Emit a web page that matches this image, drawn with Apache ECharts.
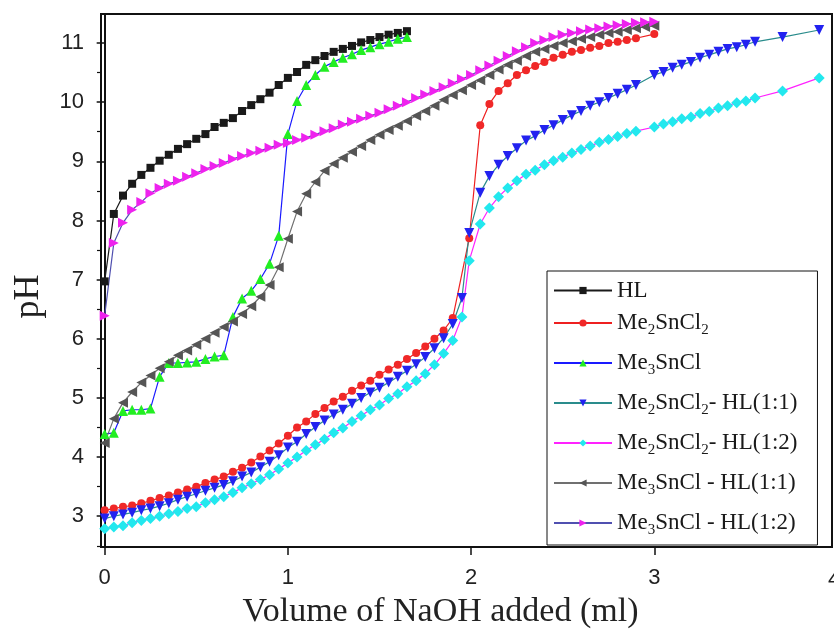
<!DOCTYPE html>
<html>
<head>
<meta charset="utf-8">
<script src="https://cdn.jsdelivr.net/npm/echarts@6/dist/echarts.min.js"></script>
<style>
  html, body { margin: 0; padding: 0; background: #fff; }
  #chart { width: 834px; height: 631px; }
</style>
</head>
<body>
<div id="chart"></div>
<script>
// Volumes of NaOH (ml)
const volSteps = [0, 0.05, 0.1, 0.15, 0.2, 0.25, 0.3, 0.35, 0.4, 0.45, 0.5, 0.55, 0.6, 0.65, 0.7, 0.75, 0.8, 0.85, 0.9, 0.95,
  1, 1.05, 1.1, 1.15, 1.2, 1.25, 1.3, 1.35, 1.4, 1.45, 1.5, 1.55, 1.6, 1.65, 1.7, 1.75, 1.8, 1.85, 1.9, 1.95,
  2, 2.05, 2.1, 2.15, 2.2, 2.25, 2.3, 2.35, 2.4, 2.45, 2.5, 2.55, 2.6, 2.65, 2.7, 2.75, 2.8, 2.85, 2.9, 2.95, 3];

const volMe2 = [0, 0.05, 0.1, 0.15, 0.2, 0.25, 0.3, 0.35, 0.4, 0.45, 0.5, 0.55, 0.6, 0.65, 0.7, 0.75, 0.8, 0.85, 0.9, 0.95,
  1, 1.05, 1.1, 1.15, 1.2, 1.25, 1.3, 1.35, 1.4, 1.45, 1.5, 1.55, 1.6, 1.65, 1.7, 1.75, 1.8, 1.85, 1.9,
  1.99, 2.05, 2.1, 2.15, 2.2, 2.25, 2.3, 2.35, 2.4, 2.45, 2.5, 2.55, 2.6, 2.65, 2.7, 2.75, 2.8, 2.85, 2.9, 3];

const volMix = [0, 0.05, 0.1, 0.15, 0.2, 0.25, 0.3, 0.35, 0.4, 0.45, 0.5, 0.55, 0.6, 0.65, 0.7, 0.75, 0.8, 0.85, 0.9, 0.95,
  1, 1.05, 1.1, 1.15, 1.2, 1.25, 1.3, 1.35, 1.4, 1.45, 1.5, 1.55, 1.6, 1.65, 1.7, 1.75, 1.8, 1.85, 1.9, 1.95,
  1.99, 2.05, 2.1, 2.15, 2.2, 2.25, 2.3, 2.35, 2.4, 2.45, 2.5, 2.55, 2.6, 2.65, 2.7, 2.75, 2.8, 2.85, 2.9,
  3, 3.05, 3.1, 3.15, 3.2, 3.25, 3.3, 3.35, 3.4, 3.45, 3.5, 3.55, 3.7, 3.9];

// pH readings
const phHL = [6.97, 8.11, 8.42, 8.62, 8.77, 8.89, 9.01, 9.11, 9.21, 9.29, 9.38, 9.46, 9.58, 9.65, 9.73, 9.85, 9.95, 10.05,
  10.16, 10.29, 10.41, 10.51, 10.63, 10.71, 10.78, 10.85, 10.90, 10.95, 11.01, 11.05, 11.10, 11.14, 11.17, 11.20];

const phMe2SnCl2 = [3.10, 3.13, 3.16, 3.18, 3.22, 3.26, 3.31, 3.35, 3.40, 3.45, 3.50, 3.56, 3.62, 3.67, 3.75, 3.82, 3.91,
  4.01, 4.11, 4.23, 4.36, 4.50, 4.60, 4.73, 4.83, 4.94, 5.02, 5.12, 5.21, 5.29, 5.39, 5.48, 5.56, 5.66, 5.76, 5.87, 6.00,
  6.14, 6.35, 7.70, 9.61, 9.97, 10.19, 10.32, 10.46, 10.54, 10.61, 10.68, 10.75, 10.80, 10.85, 10.88, 10.92, 10.95, 11.00,
  11.02, 11.05, 11.08, 11.15];

const phMe3SnCl = [4.39, 4.41, 4.78, 4.80, 4.80, 4.82, 5.36, 5.59, 5.59, 5.60, 5.61, 5.66, 5.70, 5.72, 6.37, 6.68, 6.81,
  7.01, 7.27, 7.74, 9.46, 10.02, 10.29, 10.46, 10.60, 10.68, 10.75, 10.81, 10.88, 10.93, 10.98, 11.02, 11.07, 11.10];

const phMe2HL11 = [2.96, 3.00, 3.03, 3.06, 3.10, 3.13, 3.17, 3.22, 3.28, 3.33, 3.38, 3.43, 3.48, 3.53, 3.59, 3.67, 3.74,
  3.83, 3.92, 4.03, 4.16, 4.26, 4.39, 4.51, 4.62, 4.72, 4.80, 4.90, 5.00, 5.09, 5.17, 5.26, 5.36, 5.46, 5.57, 5.69, 5.84,
  6.01, 6.25, 6.69, 7.79, 8.47, 8.75, 8.94, 9.09, 9.22, 9.35, 9.43, 9.53, 9.61, 9.70, 9.78, 9.85, 9.94, 10.00, 10.07,
  10.14, 10.21, 10.29, 10.46, 10.51, 10.58, 10.63, 10.68, 10.75, 10.80, 10.85, 10.90, 10.93, 10.97, 11.02, 11.10, 11.22];

const phMe2HL12 = [2.79, 2.82, 2.84, 2.89, 2.93, 2.96, 3.00, 3.04, 3.08, 3.13, 3.16, 3.23, 3.28, 3.33, 3.40, 3.48, 3.55,
  3.62, 3.70, 3.80, 3.90, 4.00, 4.11, 4.21, 4.30, 4.41, 4.49, 4.60, 4.70, 4.80, 4.88, 4.99, 5.07, 5.19, 5.29, 5.41, 5.56,
  5.75, 5.97, 6.37, 7.32, 7.94, 8.21, 8.40, 8.55, 8.67, 8.78, 8.85, 8.94, 9.01, 9.07, 9.14, 9.20, 9.26, 9.32, 9.37, 9.42,
  9.47, 9.51, 9.58, 9.63, 9.67, 9.72, 9.75, 9.81, 9.84, 9.90, 9.94, 9.99, 10.02, 10.07, 10.19, 10.41];

const phMe3HL11 = [4.24, 4.65, 4.92, 5.10, 5.26, 5.38, 5.50, 5.61, 5.72, 5.80, 5.90, 6.00, 6.10, 6.20, 6.29, 6.42, 6.55,
  6.71, 6.91, 7.21, 7.69, 8.15, 8.45, 8.65, 8.84, 8.96, 9.06, 9.16, 9.26, 9.36, 9.45, 9.53, 9.60, 9.68, 9.77, 9.85, 9.94,
  10.04, 10.12, 10.20, 10.29, 10.37, 10.46, 10.55, 10.63, 10.70, 10.78, 10.85, 10.90, 10.95, 11.00, 11.03, 11.07, 11.10,
  11.14, 11.17, 11.19, 11.22, 11.25, 11.27, 11.29];

const phMe3HL12 = [6.39, 7.62, 7.96, 8.18, 8.31, 8.46, 8.55, 8.62, 8.67, 8.74, 8.80, 8.87, 8.92, 8.97, 9.04, 9.09, 9.14,
  9.18, 9.23, 9.28, 9.31, 9.36, 9.40, 9.45, 9.51, 9.56, 9.62, 9.67, 9.72, 9.77, 9.82, 9.88, 9.94, 10.00, 10.07, 10.13,
  10.19, 10.25, 10.32, 10.39, 10.46, 10.54, 10.62, 10.70, 10.78, 10.86, 10.93, 11.00, 11.05, 11.10, 11.14, 11.17, 11.20,
  11.23, 11.25, 11.28, 11.30, 11.32, 11.34, 11.35, 11.36];

const xTicks = [0, 1, 2, 3];
const yTicks = [3, 4, 5, 6, 7, 8, 9, 10, 11];
const yMinorTicks = [2.5, 3.5, 4.5, 5.5, 6.5, 7.5, 8.5, 9.5, 10.5];

// Legend labels with subscripts
const legendRich = {
  "HL": "{m|HL}",
  "Me2SnCl2": "{m|Me}{s|2}{m|SnCl}{s|2}",
  "Me3SnCl": "{m|Me}{s|3}{m|SnCl}",
  "Me2SnCl2- HL(1:1)": "{m|Me}{s|2}{m|SnCl}{s|2}{m|- HL(1:1)}",
  "Me2SnCl2- HL(1:2)": "{m|Me}{s|2}{m|SnCl}{s|2}{m|- HL(1:2)}",
  "Me3SnCl - HL(1:1)": "{m|Me}{s|3}{m|SnCl - HL(1:1)}",
  "Me3SnCl - HL(1:2)": "{m|Me}{s|3}{m|SnCl - HL(1:2)}",
};

const pairs = (xs, ys) => ys.map((y, i) => [xs[i], y]);

const makeSeries = (name, data, symbol, size, rotate, lineColor, markColor) => ({
  name: name,
  type: "line",
  data: data,
  symbol: symbol,
  symbolSize: size,
  symbolRotate: rotate,
  showSymbol: true,
  lineStyle: { color: lineColor, width: 1.2 },
  itemStyle: { color: markColor },
  emphasis: { disabled: true },
});

const series = [
  makeSeries("HL", pairs(volSteps, phHL), "rect", 8, 0, "#1a1a1a", "#1a1a1a"),
  makeSeries("Me2SnCl2", pairs(volMe2, phMe2SnCl2), "circle", 8, 0, "#ee2020", "#f02828"),
  makeSeries("Me3SnCl", pairs(volSteps, phMe3SnCl), "triangle", 10, 0, "#1a1aff", "#22ee22"),
  makeSeries("Me2SnCl2- HL(1:1)", pairs(volMix, phMe2HL11), "triangle", 10, 180, "#2a8c8c", "#2222f0"),
  makeSeries("Me2SnCl2- HL(1:2)", pairs(volMix, phMe2HL12), "diamond", 11, 0, "#ff22ff", "#22e8ee"),
  makeSeries("Me3SnCl - HL(1:1)", pairs(volSteps, phMe3HL11), "triangle", 10, 90, "#707070", "#555555"),
  makeSeries("Me3SnCl - HL(1:2)", pairs(volSteps, phMe3HL12), "triangle", 10, -90, "#5050b0", "#ee22ee"),
];

const chart = echarts.init(document.getElementById("chart"), null, { renderer: "canvas" });

const option = {
  animation: false,
  backgroundColor: "#ffffff",
  grid: {
    left: 101, right: 2, top: 14, bottom: 84,
    outerBoundsMode: "none",
    containLabel: false,
    show: true, borderColor: "#111", borderWidth: 2, backgroundColor: "transparent",
  },
  xAxis: {
    type: "value",
    min: -0.02,
    max: 3.97,
    axisLine: { lineStyle: { color: "#111", width: 2 } },
    axisTick: { customValues: xTicks, length: 8, lineStyle: { color: "#111", width: 1.5 } },
    axisLabel: {
      customValues: xTicks, margin: 20, fontSize: 22,
      fontFamily: "Liberation Sans", color: "#222",
    },
    splitLine: { show: false },
    name: "Volume of NaOH added (ml)",
    nameLocation: "middle",
    nameGap: 48,
    nameTextStyle: { fontFamily: "Liberation Serif", fontSize: 34, color: "#222", padding: [0, 52, 0, 0] },
  },
  yAxis: [
    {
      type: "value",
      position: "left",
      min: 2.48,
      max: 11.49,
      axisLine: { show: true, lineStyle: { color: "#111", width: 2 } },
      axisTick: { show: true, customValues: yTicks, length: 8, lineStyle: { color: "#111", width: 1.5 } },
      axisLabel: {
        customValues: yTicks, margin: 17, fontSize: 22,
        fontFamily: "Liberation Sans", color: "#222",
      },
      splitLine: { show: false },
      name: "pH",
      nameLocation: "middle",
      nameGap: 54,
      nameTextStyle: { fontFamily: "Liberation Serif", fontSize: 36, color: "#222", padding: [0, 32, 0, 0] },
    },
    {
      type: "value",
      position: "left",
      offset: 0,
      min: 2.48,
      max: 11.49,
      axisLine: { show: false },
      axisTick: { show: true, customValues: yMinorTicks, length: 4, lineStyle: { color: "#111", width: 1.2 } },
      axisLabel: { show: false },
      splitLine: { show: false },
    },
  ],
  legend: {
    orient: "vertical",
    left: 547,
    top: 271,
    padding: [8, 20, 3, 6],
    itemGap: 2,
    itemWidth: 58,
    itemHeight: 9,
    backgroundColor: "#ffffff",
    borderColor: "#111",
    borderWidth: 1,
    borderRadius: 0,
    data: series.map((s) => s.name),
    formatter: (name) => legendRich[name],
    textStyle: {
      rich: {
        m: { fontFamily: "Liberation Serif", fontSize: 23, lineHeight: 22, color: "#1a1a1a" },
        s: { fontFamily: "Liberation Serif", fontSize: 15, lineHeight: 14, padding: [19, 0, 4, 0], color: "#1a1a1a" },
      },
    },
  },
  graphic: [
    {
      type: "text",
      left: 828,
      top: 569,
      silent: true,
      style: { text: "4", font: "22px 'Liberation Sans'", fill: "#222" },
    },
  ],
  series: series,
};

chart.setOption(option);
</script>
</body>
</html>
